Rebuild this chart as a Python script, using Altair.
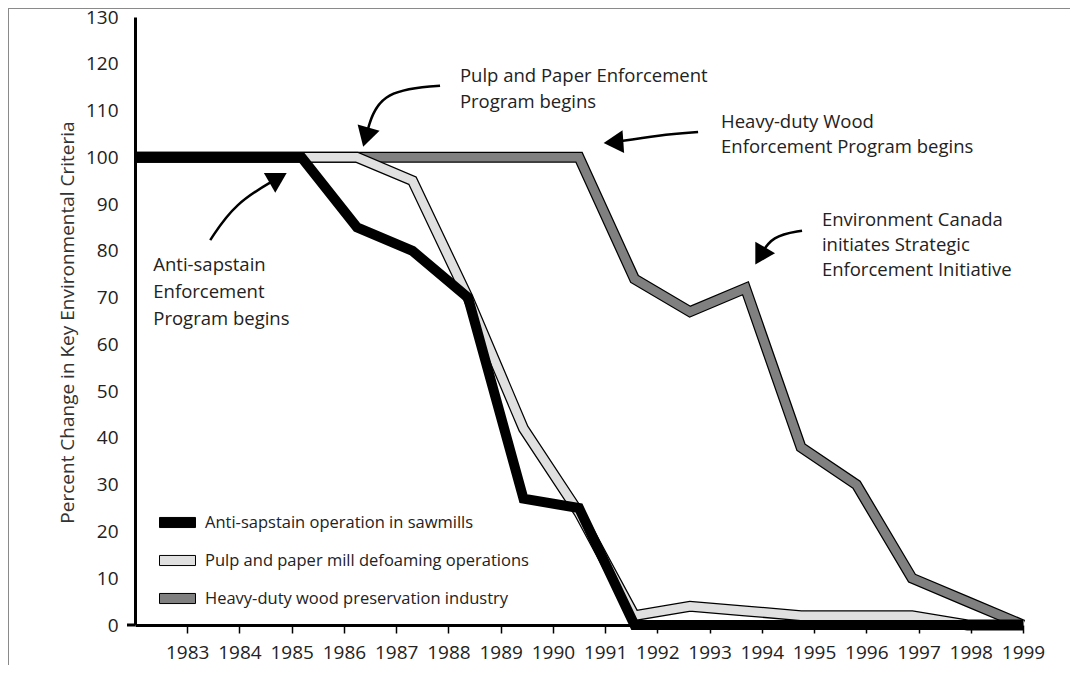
import altair as alt
import pandas as pd

# ---------------- data ----------------
years = list(range(1983, 2000))
series_names = [
    "Anti-sapstain operation in sawmills",
    "Pulp and paper mill defoaming operations",
    "Heavy-duty wood preservation industry",
]
anti_sapstain = [100, 100, 100, 100, 85, 80, 70, 27, 25, 0, 0, 0, 0, 0, 0, 0, 0]
pulp_paper = [100, 100, 100, 100, 100, 95, 70, 42, 24, 2, 4, 3, 2, 2, 2, 0, 0]
heavy_duty = [100, 100, 100, 100, 100, 100, 100, 100, 100, 74, 67, 72, 38, 30, 10, 5, 0]
series_colors = ["#000000", "#e0e0e0", "#808080"]
y_ticks = list(range(0, 131, 10))

# annotation texts (data coordinates: year position, percent)
note_text = [
    "Anti-sapstain", "Enforcement", "Program begins",
    "Pulp and Paper Enforcement", "Program begins",
    "Heavy-duty Wood", "Enforcement Program begins",
    "Environment Canada", "initiates Strategic", "Enforcement Initiative",
]
note_x = [1982.35, 1982.35, 1982.35,
          1988.22, 1988.22,
          1993.22, 1993.22,
          1995.15, 1995.15, 1995.15]
note_y = [76.9, 71.2, 65.4,
          117.4, 111.8,
          107.5, 102.2,
          86.6, 81.3, 75.9]

# arrows: curve control points (start, bend, end) and heads
arrow_id = [1, 1, 1, 2, 2, 2, 3, 3, 3, 4, 4, 4]
arrow_step = [0, 1, 2] * 4
arrow_x = [1983.44, 1983.91, 1984.74,
           1987.84, 1986.65, 1986.42,
           1992.78, 1992.05, 1991.16,
           1994.77, 1994.19, 1993.97]
arrow_y = [82.3, 90.2, 95.6,
           115.3, 114.2, 104.3,
           105.4, 104.8, 103.2,
           84.3, 83.2, 78.9]
head_x = [1984.74, 1986.42, 1991.16, 1993.97]
head_y = [95.6, 104.3, 103.2, 78.9]
head_angle = [60, 196, 266, 210]

# ---------------- tables ----------------
rows = []
for name, vals in zip(series_names, [anti_sapstain, pulp_paper, heavy_duty]):
    for i, (yr, v) in enumerate(zip(years, vals)):
        rows.append({"series": name, "idx": i, "year": yr,
                     "pos": 1982 + i * 17 / 16, "value": v})
df = pd.DataFrame(rows)

notes = pd.DataFrame({"text": note_text, "pos": note_x, "value": note_y})
arrows = pd.DataFrame({"arrow": arrow_id, "step": arrow_step, "pos": arrow_x, "value": arrow_y})
heads = pd.DataFrame({"pos": head_x, "value": head_y, "angle": head_angle})
legend_df = pd.DataFrame({"series": series_names, "pos": [1982] * 3, "value": [0] * 3})
frame_df = pd.DataFrame({"a": [0]})
axis_ext = pd.DataFrame({"pos": [1982], "value": [0]})

FONT = "Open Sans"
W, H = 888, 608

x_scale = alt.Scale(domain=[1982, 1999], nice=False, zero=False)
y_scale = alt.Scale(domain=[0, 130], nice=False)

x_axis = alt.Axis(values=years, format="d", tickSize=8, tickWidth=1.5, tickColor="black",
                  domainWidth=3, domainColor="black", labelFont=FONT, labelFontSize=19,
                  labelColor="#222", labelPadding=10, grid=False, title=None,
                  labelFlush=False, labelOverlap=False)
y_axis = alt.Axis(values=y_ticks, ticks=False, tickSize=0, domainWidth=3, domainColor="black",
                  labelFont=FONT, labelFontSize=19, labelColor="#222", labelPadding=17,
                  grid=False, title="Percent Change in Key Environmental Criteria",
                  titleFont=FONT, titleFontSize=19, titleFontWeight="normal", titleColor="#333",
                  titleAngle=270, titleX=-68, titleY=305, titleAlign="center",
                  titleBaseline="middle")

X = alt.X("pos:Q", scale=x_scale, axis=x_axis)
Y = alt.Y("value:Q", scale=y_scale, axis=y_axis)


def series_line(name, color, width):
    return alt.Chart(df).transform_filter(alt.datum.series == name).mark_line(
        color=color, strokeWidth=width, strokeJoin="miter", strokeCap="butt"
    ).encode(x=X, y=Y, order="idx:Q")


frame_top = alt.Chart(frame_df).mark_rule(color="#8a8a8a", strokeWidth=1).encode(
    x=alt.value(-127.5), x2=alt.value(950), y=alt.value(-8.5)
)
frame_left = alt.Chart(frame_df).mark_rule(color="#8a8a8a", strokeWidth=1).encode(
    x=alt.value(-126.5), y=alt.value(-9), y2=alt.value(660)
)

ext = alt.Chart(axis_ext).mark_rule(color="black", strokeWidth=3).encode(
    x=alt.value(-8), x2=alt.value(0), y=Y
)

layers = [
    frame_top,
    frame_left,
    series_line(series_names[2], "black", 11),
    series_line(series_names[2], series_colors[2], 8.5),
    series_line(series_names[1], "black", 11),
    series_line(series_names[1], series_colors[1], 8.5),
    series_line(series_names[0], "black", 10),
    ext,
]

legend_layer = alt.Chart(legend_df).mark_point(
    shape="square", filled=True, stroke="black", strokeWidth=1, opacity=0
).encode(
    x=X, y=Y,
    color=alt.Color("series:N", scale=alt.Scale(domain=series_names, range=series_colors),
                    legend=alt.Legend(orient="none", legendX=24, legendY=487, title=None,
                                      symbolType="M-1,-0.28H1V0.28H-1Z", symbolSize=1296,
                                      symbolStrokeColor="black", symbolStrokeWidth=1,
                                      symbolOpacity=1, labelFont=FONT, labelFontSize=16.5,
                                      labelColor="#222", labelOffset=9, rowPadding=11,
                                      labelLimit=500, padding=0)),
)

note_layer = alt.Chart(notes).mark_text(
    align="left", baseline="middle", font=FONT, fontSize=18.5, color="#222"
).encode(x=X, y=Y, text="text:N")

arrow_layer = alt.Chart(arrows).mark_line(
    color="black", strokeWidth=2.5, interpolate="basis"
).encode(x=X, y=Y, detail="arrow:N", order="step:Q")

head_layer = alt.Chart(heads).mark_point(
    shape="triangle-up", filled=True, color="black", size=520, opacity=1
).encode(x=X, y=Y, angle=alt.Angle("angle:Q", scale=None))

chart = alt.layer(*layers, legend_layer, note_layer, arrow_layer, head_layer).properties(
    width=W, height=H,
    autosize=alt.AutoSizeParams(type="none"),
    padding={"left": 127, "top": 9, "right": 47, "bottom": 40},
    background="white",
).configure_view(stroke=None)

chart.save("out.html", embed_options={"renderer": "svg", "actions": False})
